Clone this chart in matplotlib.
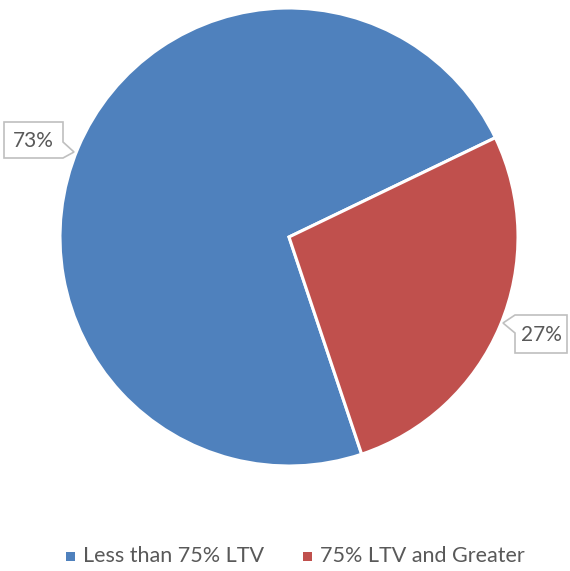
import matplotlib
matplotlib.use('Agg')
import matplotlib.pyplot as plt
from matplotlib.patches import Polygon

labels = ['Less than 75% LTV', '75% LTV and Greater']
shares = [73, 27]
colors = ['#4F81BD', '#C0504D']

W, H = 570, 571
text_color = '#595959'
plt.rcParams['font.family'] = ['Lato', 'DejaVu Sans']

fig = plt.figure(figsize=(W / 100, H / 100), dpi=100)
ax = fig.add_axes([0, 0, 1, 1])


def py(y):
    # pixel rows counted from the top
    return H - y


wedges, _ = ax.pie(shares, colors=colors, startangle=-71.5, counterclock=False,
                   center=(289, py(237)), radius=229, frame=True,
                   wedgeprops=dict(edgecolor='white', linewidth=2.2))
ax.set_xlim(0, W)
ax.set_ylim(0, H)
ax.set_aspect('auto')
ax.axis('off')

# callout boxes for the data labels
box_left = [(4, 122), (63, 122), (63, 142), (74, 152), (63, 158), (4, 158)]
box_right = [(515, 315), (567, 315), (567, 353), (515, 353), (515, 333), (503, 323)]
for pts in (box_left, box_right):
    ax.add_patch(Polygon([(x, py(y)) for x, y in pts], closed=True,
                         facecolor='white', edgecolor='#BFBFBF', linewidth=1.2, zorder=5))

ax.text(33.5, py(141), f'{shares[0]}%', ha='center', va='center',
        fontsize=15, color=text_color, zorder=6)
ax.text(541, py(335), f'{shares[1]}%', ha='center', va='center',
        fontsize=15, color=text_color, zorder=6)

# legend
leg_x = [66, 303]
for x, lab, c in zip(leg_x, labels, colors):
    ax.add_patch(plt.Rectangle((x, py(561)), 9, 9, facecolor=c, edgecolor='none'))
    ax.text(x + 17, py(556), lab, ha='left', va='center', fontsize=15.5, color=text_color)

fig.savefig('out.png', dpi=100)
